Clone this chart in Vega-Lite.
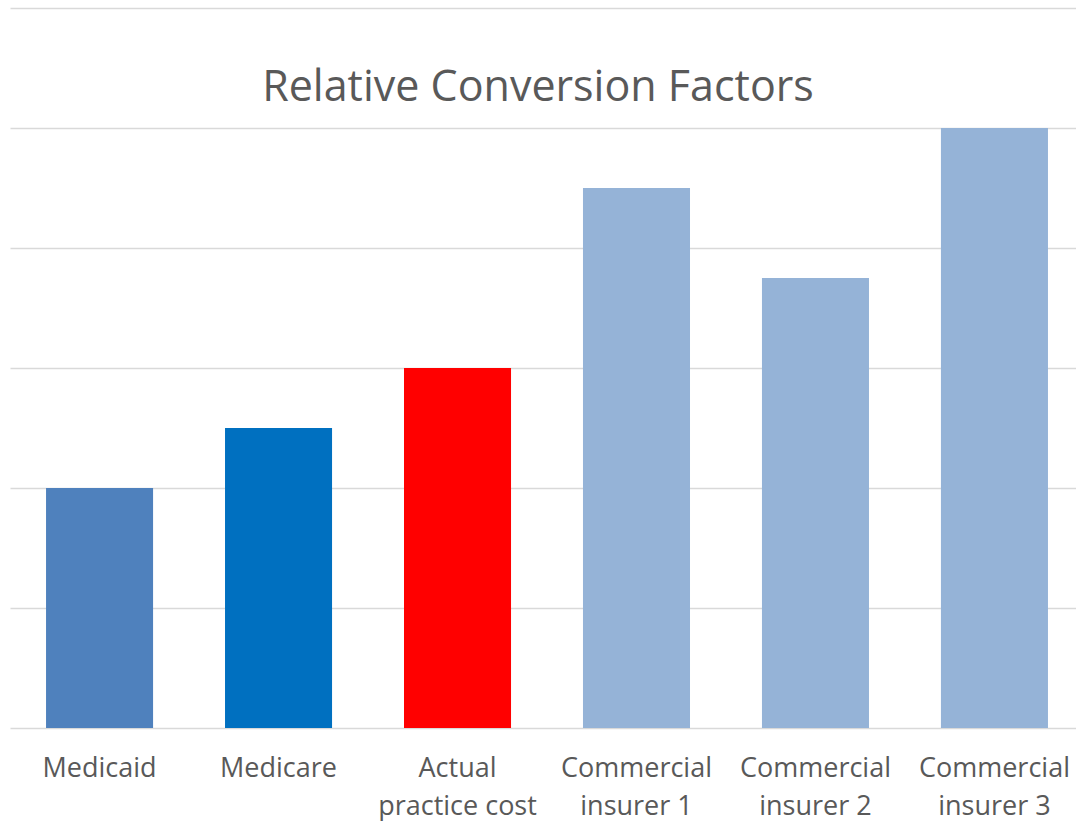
{
  "$schema": "https://vega.github.io/schema/vega-lite/v6.json",
  "autosize": {"type": "none"},
  "padding": {"left": 10, "top": 8, "right": 0, "bottom": 93},
  "width": 1066,
  "height": 720,
  "background": "white",
  "title": {
    "text": "Relative Conversion Factors",
    "font": "Open Sans",
    "fontSize": 43,
    "fontWeight": "normal",
    "color": "#595959",
    "anchor": "middle",
    "baseline": "alphabetic",
    "offset": 0,
    "dy": 136,
    "dx": -5
  },
  "data": {
    "values": [
      {"category": "Medicaid", "value": 2.0, "group": "Medicaid"},
      {"category": "Medicare", "value": 2.5, "group": "Medicare"},
      {"category": "Actual|practice cost", "value": 3.0, "group": "Actual"},
      {"category": "Commercial|insurer 1", "value": 4.5, "group": "Commercial"},
      {"category": "Commercial|insurer 2", "value": 3.75, "group": "Commercial"},
      {"category": "Commercial|insurer 3", "value": 5.0, "group": "Commercial"}
    ]
  },
  "mark": {"type": "bar"},
  "encoding": {
    "x": {
      "field": "category",
      "type": "nominal",
      "sort": null,
      "scale": {"paddingInner": 0.402, "paddingOuter": 0.179, "align": 0.5625},
      "axis": {
        "title": null,
        "labelAngle": 0,
        "labelExpr": "split(datum.label, '|')",
        "labelFont": "Open Sans",
        "labelFontSize": 27,
        "labelColor": "#595959",
        "labelLineHeight": 38,
        "labelBaseline": "top",
        "labelPadding": 27,
        "ticks": false,
        "domain": false,
        "grid": false
      }
    },
    "y": {
      "field": "value",
      "type": "quantitative",
      "scale": {"domain": [0, 6], "nice": false},
      "axis": {
        "title": null,
        "labels": false,
        "ticks": false,
        "domain": false,
        "grid": true,
        "gridColor": "#D9D9D9",
        "gridWidth": 1.5,
        "values": [0, 1, 2, 3, 4, 5, 6]
      }
    },
    "color": {
      "field": "group",
      "type": "nominal",
      "scale": {
        "domain": ["Medicaid", "Medicare", "Actual", "Commercial"],
        "range": ["#4F81BD", "#0070C0", "#FF0000", "#95B3D7"]
      },
      "legend": null
    }
  },
  "config": {"view": {"stroke": null}}
}
